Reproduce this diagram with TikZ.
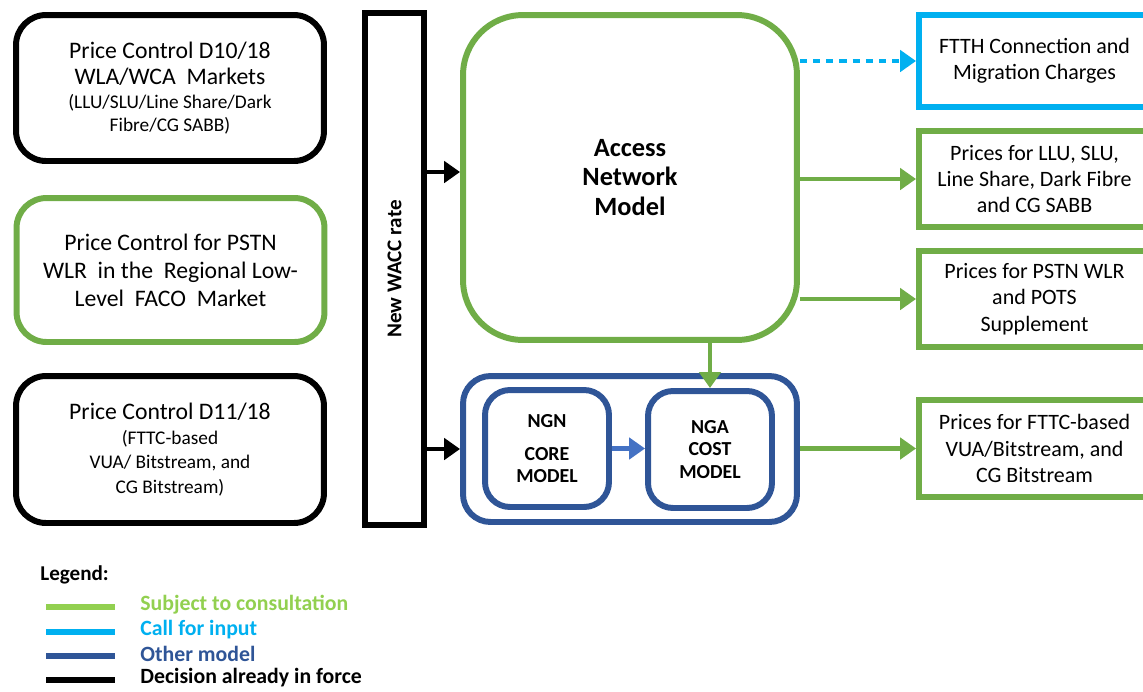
\documentclass[tikz,border=0pt]{standalone}
\usepackage{fontspec}
\setmainfont{Carlito}
\usetikzlibrary{arrows.meta}
\definecolor{boxgreen}{HTML}{70AD47}
\definecolor{keygreen}{HTML}{92D050}
\definecolor{cfiblue}{HTML}{00B0F0}
\definecolor{modelblue}{HTML}{2F5597}
\definecolor{linkblue}{HTML}{4472C4}
\newcommand\smalltxt[1]{{\fontsize{11}{13}\selectfont #1}}
\tikzset{
  every node/.style={inner sep=0pt, align=center},
  pricebox/.style={draw, rounded corners=0.6cm, line width=3.4pt,
    minimum width=6.16cm, font=\fontsize{13.5}{16}\selectfont},
  waccbar/.style={draw, line width=3.4pt, rotate=90, minimum width=10.24cm,
    minimum height=1.18cm, font=\bfseries\fontsize{12}{14}\selectfont},
  modelbox/.style={draw=modelblue, line width=3.4pt},
  outbox/.style={draw=boxgreen, line width=3.4pt, minimum width=4.62cm,
    font=\fontsize{12.5}{15}\selectfont},
  feed/.style={line width=2.8pt, -{Triangle[length=9pt,width=12pt]}},
  keytxt/.style={anchor=west, font=\bfseries\fontsize{12.4}{14}\selectfont}
}

\begin{document}
\begin{tikzpicture}[x=0.02cm, y=-0.02cm]
\useasboundingbox (0,0) rectangle (1143,691);

\node[pricebox, minimum height=2.92cm] (pc1) at (170,88)
  {Price Control D10/18\\[-1pt]WLA/WCA\ \ Markets\\[-2pt]\smalltxt{(LLU/SLU/Line Share/Dark}\\[-3pt]\smalltxt{Fibre/CG SABB)}};
\node[pricebox, draw=boxgreen, minimum height=2.88cm] (pc2) at (170.5,270)
  {Price Control for PSTN\\WLR\ \ in the\ \ Regional Low-\\Level\ \ FACO\ \ Market};
\node[pricebox, minimum height=2.94cm] (pc3) at (170,449.5)
  {Price Control D11/18\\[-2pt]\smalltxt{(FTTC-based}\\[-2pt]\smalltxt{VUA/ Bitstream, and}\\[-2pt]\smalltxt{CG Bitstream)}};

\node[waccbar] (wacc) at (394.5,269) {New WACC rate};

\node[draw=boxgreen, line width=3.4pt, rounded corners=1.2cm, minimum width=6.68cm,
  minimum height=6.5cm, font=\bfseries\fontsize{15}{17}\selectfont] (anm) at (630,177.5)
  {Access\\Network\\Model};
\node[modelbox, rounded corners=0.55cm, minimum width=6.68cm, minimum height=2.92cm] (ngabox) at (630,449) {};
\node[modelbox, rounded corners=0.5cm, minimum width=2.48cm, minimum height=2.34cm,
  font=\bfseries\fontsize{11.3}{12.5}\selectfont] (ngn) at (547,448.5) {NGN\\[6pt]CORE\\MODEL};
\node[modelbox, rounded corners=0.5cm, minimum width=2.48cm, minimum height=2.34cm,
  font=\bfseries\fontsize{11.3}{13}\selectfont] (nga) at (710,449.5) {NGA\\COST\\MODEL};

\node[outbox, draw=cfiblue, minimum height=1.84cm] (ftth) at (1034.5,61)
  {FTTH Connection and\\Migration Charges};
\node[outbox, minimum height=1.92cm] (llu) at (1034.5,179)
  {Prices for LLU, SLU,\\Line Share, Dark Fibre\\and CG SABB};
\node[outbox, minimum height=1.92cm] (pstn) at (1034.5,299)
  {Prices for PSTN WLR\\and POTS\\Supplement};
\node[outbox, minimum height=1.94cm] (fttc) at (1034.5,448.5)
  {Prices for FTTC-based\\VUA/Bitstream, and\\CG Bitstream};

\coordinate (waccout) at (0,172);
\draw[feed] (wacc.south |- waccout) -- (anm.west |- waccout);
\draw[feed] (wacc.south |- ngabox.west) -- (ngabox.west);
\draw[feed, cfiblue, dash pattern=on 4pt off 3.5pt] (anm.east |- ftth.west) -- (ftth.west);
\draw[feed, boxgreen] (anm.east |- llu.west) -- (llu.west);
\draw[feed, boxgreen] (anm.east |- pstn.west) -- (pstn.west);
\draw[feed, boxgreen] (ngabox.east |- fttc.west) -- (fttc.west);
\draw[feed, boxgreen] (anm.south -| nga.north) -- (nga.north);
\draw[feed, linkblue] (ngn.east) -- (ngn.east -| nga.west);

\node[anchor=west, font=\bfseries\fontsize{12}{14}\selectfont] (legend) at (40,575) {Legend:};
\foreach \yy/\col/\lbl [count=\i] in {607/keygreen/Subject to consultation,
    632/cfiblue/Call for input, 656/modelblue/Other model, 680/black/Decision already in force}{
  \draw[line width=3.4pt, \col] (46,\yy) -- (115,\yy);
  \node[keytxt, text=\col] (key\i) at (140,\yy-2) {\lbl};
}
\end{tikzpicture}
\end{document}
